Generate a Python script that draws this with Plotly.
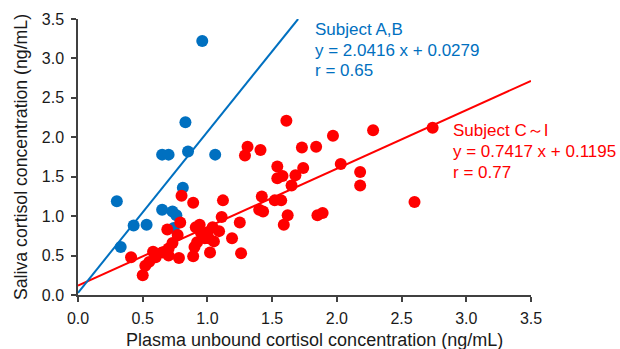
import plotly.graph_objects as go

# Subject A,B (blue)
ab_x = [0.96, 0.83, 0.65, 0.70, 0.85, 1.06, 0.81, 0.30, 0.65, 0.73, 0.76, 0.43, 0.53, 0.33, 0.74]
ab_y = [3.22, 2.19, 1.78, 1.78, 1.82, 1.78, 1.36, 1.19, 1.08, 1.06, 1.01, 0.88, 0.89, 0.61, 0.85]

# Subject C~I (red)
ci_x = [1.61, 2.28, 2.74, 1.97, 1.31, 1.29, 1.41, 1.73, 1.84, 1.54, 1.54, 1.58, 1.74, 1.68,
        1.65, 2.03, 2.18, 2.18, 2.60, 0.80, 0.89, 1.12, 1.42, 1.52, 1.57, 1.40, 1.43, 1.62,
        1.59, 1.85, 1.89, 1.11, 1.25, 0.79, 0.69, 0.94, 0.91, 1.04, 1.09, 1.00, 0.98, 1.05,
        0.92, 0.90, 1.19, 0.77, 0.73, 0.70, 1.02, 1.26, 0.89, 0.78, 0.70, 0.65, 0.58, 0.60,
        0.55, 0.52, 0.41, 0.50, 1.01, 0.95]
ci_y = [2.21, 2.09, 2.12, 2.02, 1.88, 1.77, 1.84, 1.87, 1.88, 1.63, 1.48, 1.51, 1.61, 1.52,
        1.39, 1.66, 1.56, 1.39, 1.18, 1.26, 1.17, 1.20, 1.25, 1.20, 1.20, 1.08, 1.06, 1.01,
        0.89, 1.01, 1.04, 0.99, 0.92, 0.92, 0.83, 0.89, 0.86, 0.86, 0.81, 0.78, 0.72, 0.68,
        0.67, 0.61, 0.72, 0.76, 0.66, 0.59, 0.54, 0.53, 0.49, 0.47, 0.50, 0.54, 0.55, 0.48,
        0.42, 0.37, 0.48, 0.25, 0.72, 0.79]

# Regression lines
ab_slope, ab_int = 2.0416, 0.0279
ci_slope, ci_int = 0.7417, 0.1195
ab_line_x = [0.0, (3.5 - ab_int) / ab_slope]
ci_line_x = [0.0, 3.5]

ticks = [0.0, 0.5, 1.0, 1.5, 2.0, 2.5, 3.0, 3.5]
tick_text = ["0.0", "0.5", "1.0", "1.5", "2.0", "2.5", "3.0", "3.5"]

x_title = "Plasma unbound cortisol concentration (ng/mL)"
y_title = "Saliva cortisol concentration (ng/mL)"

BLUE = "#0070C0"
RED = "#FF0000"
TXT = "#1a1a1a"

fig = go.Figure()
fig.add_trace(go.Scatter(x=ci_line_x, y=[ci_slope * v + ci_int for v in ci_line_x],
                         mode="lines", line=dict(color=RED, width=2), hoverinfo="skip"))
fig.add_trace(go.Scatter(x=ab_line_x, y=[ab_slope * v + ab_int for v in ab_line_x],
                         mode="lines", line=dict(color=BLUE, width=2), hoverinfo="skip"))
fig.add_trace(go.Scatter(x=ab_x, y=ab_y, mode="markers",
                         marker=dict(color=BLUE, size=12, line=dict(width=0))))
fig.add_trace(go.Scatter(x=ci_x, y=ci_y, mode="markers",
                         marker=dict(color=RED, size=12, line=dict(width=0))))

font_fam = "Liberation Sans, Arial, sans-serif"

def ann(text, x, y, color):
    fig.add_annotation(text=text, x=x, y=y, xref="x", yref="y", xanchor="left",
                       yanchor="middle", showarrow=False,
                       font=dict(family=font_fam, size=17, color=color))

# blue block
ann("Subject A,B", 1.816, 3.371, BLUE)
ann("y = 2.0416 x + 0.0279", 1.816, 3.105, BLUE)
ann("r = 0.65", 1.816, 2.852, BLUE)
# red block
ann("Subject C～I", 2.883, 2.082, RED)
ann("y = 0.7417 x + 0.1195", 2.883, 1.816, RED)
ann("r = 0.77", 2.883, 1.555, RED)

# x-axis title (slightly right of plot centre, as in the original)
fig.add_annotation(text=x_title, xref="paper", yref="paper", x=0.521, y=-0.163,
                   xanchor="center", yanchor="middle", showarrow=False,
                   font=dict(family=font_fam, size=18, color=TXT))

axis_common = dict(range=[0, 3.5], tickvals=ticks, ticktext=tick_text, showgrid=False,
                   zeroline=False, showline=True, linecolor="#404040", linewidth=1.5,
                   ticks="outside", ticklen=5, tickwidth=1.5, tickcolor="#404040",
                   automargin=False,
                   tickfont=dict(family=font_fam, size=16, color=TXT))

fig.update_layout(
    width=620, height=349,
    margin=dict(l=78, r=89, t=19, b=54),
    paper_bgcolor="white", plot_bgcolor="white",
    showlegend=False,
    font=dict(family=font_fam, color=TXT),
    xaxis=dict(**axis_common, ticklabelstandoff=3),
    yaxis=dict(**axis_common, ticklabelstandoff=4,
               title=dict(text=y_title,
                          font=dict(family=font_fam, size=17.7, color=TXT), standoff=10)),
)

fig.write_html("out.html")
